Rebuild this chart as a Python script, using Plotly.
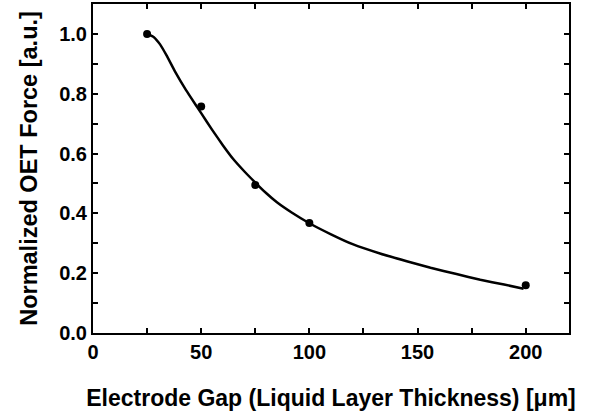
import plotly.graph_objects as go

gap_um = [25, 50, 75, 100, 200]
force_norm = [1.0, 0.757, 0.495, 0.368, 0.16]

fit_x = [25, 28, 31, 34, 38, 43, 48, 50, 55, 60, 65, 70, 75, 80, 85, 92, 100, 110, 120, 133, 145, 156, 168, 179, 190, 199]
fit_y = [1.0, 0.99, 0.965, 0.928, 0.873, 0.812, 0.757, 0.735, 0.68, 0.628, 0.58, 0.54, 0.503, 0.468, 0.437, 0.402, 0.367, 0.33, 0.297, 0.265, 0.24, 0.218, 0.197, 0.178, 0.162, 0.148]

x_ticks = [0, 50, 100, 150, 200]
y_ticks = [0.0, 0.2, 0.4, 0.6, 0.8, 1.0]

fig = go.Figure()
fig.add_trace(go.Scatter(x=fit_x, y=fit_y, mode="lines",
                         line=dict(color="black", width=2.5, shape="spline", smoothing=0.4),
                         hoverinfo="skip", showlegend=False))
fig.add_trace(go.Scatter(x=gap_um, y=force_norm, mode="markers",
                         marker=dict(color="black", size=8), showlegend=False))

font = dict(family="Liberation Sans, Arial, sans-serif", color="black")
fig.update_layout(
    width=600, height=417,
    margin=dict(l=93, r=31, t=4, b=84, autoexpand=False),
    paper_bgcolor="white", plot_bgcolor="white",
    font=font,
    xaxis=dict(range=[0, 220], tickvals=x_ticks, ticktext=[f"<b>{v}</b>" for v in x_ticks],
               ticks="inside", ticklen=5, tickwidth=1.5, tickcolor="black",
               minor=dict(dtick=25, tick0=0, ticks="inside", ticklen=5, tickwidth=1.5, tickcolor="black", showgrid=False),
               showline=True, linecolor="black", linewidth=2, mirror="ticks",
               showgrid=False, zeroline=False, tickfont=dict(size=20, **font), automargin=False,
               title=dict(text="<b>Electrode Gap (Liquid Layer Thickness) [μm]</b>", font=dict(size=23, **font), standoff=28)),
    yaxis=dict(range=[0, 1.1], tickvals=y_ticks, ticktext=[f"<b>{v:.1f}</b>" for v in y_ticks],
               ticks="inside", ticklen=5, tickwidth=1.5, tickcolor="black",
               minor=dict(dtick=0.1, tick0=0, ticks="inside", ticklen=5, tickwidth=1.5, tickcolor="black", showgrid=False),
               showline=True, linecolor="black", linewidth=2, mirror="ticks",
               showgrid=False, zeroline=False, tickfont=dict(size=20, **font), automargin=False,
               title=dict(text="<b>Normalized OET Force [a.u.]</b>", font=dict(size=23.5, **font), standoff=15)),
)
fig.write_html("out.html", post_script="document.body.style.margin='0';",
               config={"displayModeBar": False})
